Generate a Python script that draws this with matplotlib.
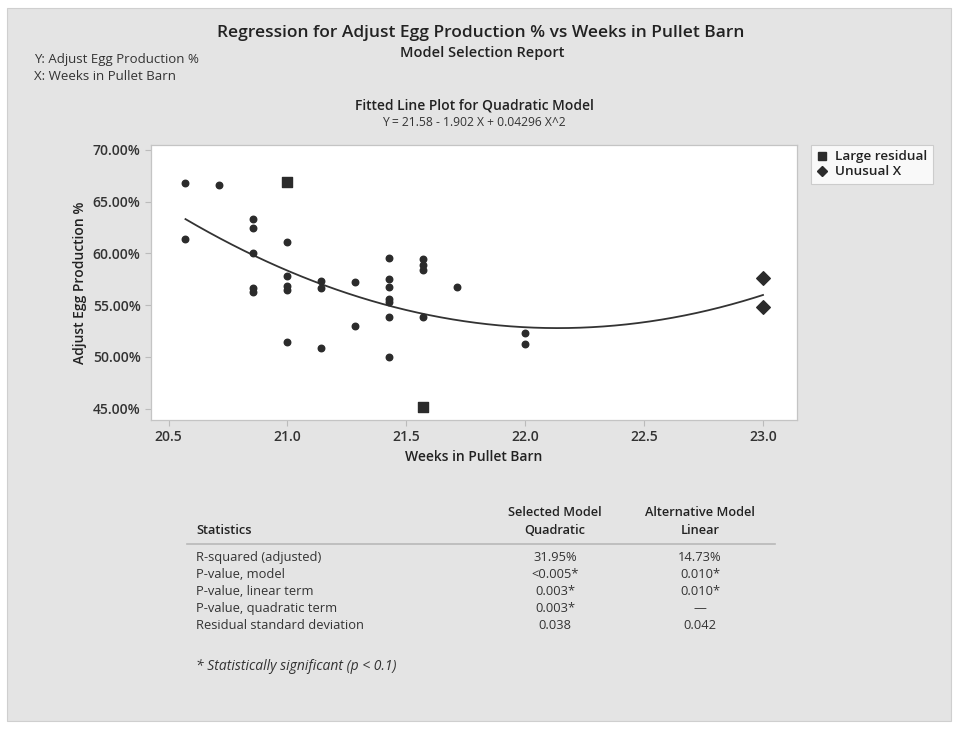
import numpy as np
import matplotlib
matplotlib.use("Agg")
import matplotlib.pyplot as plt
from matplotlib.patches import Rectangle
from matplotlib.lines import Line2D
from matplotlib.ticker import PercentFormatter

plt.rcParams['font.family'] = ['Open Sans', 'DejaVu Sans']

# Data (weeks in pullet barn, adjusted egg production as fraction)
wk_ordinary = [20.571, 20.571, 20.714,
               20.857, 20.857, 20.857, 20.857, 20.857,
               21.0, 21.0, 21.0, 21.0, 21.0,
               21.143, 21.143, 21.143,
               21.286, 21.286,
               21.429, 21.429, 21.429, 21.429, 21.429, 21.429, 21.429,
               21.571, 21.571, 21.571, 21.571,
               21.714,
               22.0, 22.0]
egg_ordinary = [0.668, 0.614, 0.6665,
                0.633, 0.625, 0.600, 0.567, 0.563,
                0.611, 0.578, 0.569, 0.565, 0.514,
                0.573, 0.567, 0.509,
                0.572, 0.530,
                0.596, 0.575, 0.568, 0.556, 0.553, 0.539, 0.500,
                0.595, 0.589, 0.584, 0.539,
                0.568,
                0.523, 0.5125]
wk_large_resid = [21.0, 21.571]
egg_large_resid = [0.669, 0.452]
wk_unusual_x = [23.0, 23.0]
egg_unusual_x = [0.576, 0.548]

# Quadratic model coefficients from the report
coef = [0.04296, -1.902, 21.58]

stat_names = ["R-squared (adjusted)", "P-value, model", "P-value, linear term",
              "P-value, quadratic term", "Residual standard deviation"]
selected_vals = ["31.95%", "<0.005*", "0.003*", "0.003*", "0.038"]
alternative_vals = ["14.73%", "0.010*", "0.010*", "\u2014", "0.042"]

W, H = 956, 729
fig = plt.figure(figsize=(W / 100, H / 100), dpi=100)
fig.patch.set_facecolor("white")

def fx(px):
    return px / W

def fy(py):
    return 1 - py / H

# grey report panel
panel = Rectangle((fx(7), fy(721)), fx(944), 713 / H, transform=fig.transFigure,
                  facecolor="#e4e4e4", edgecolor="#cfcfcf", lw=0.8, zorder=-10)
fig.add_artist(panel)

dark = "#222222"
txt = "#333333"

fig.text(fx(481), fy(33), "Regression for Adjust Egg Production % vs Weeks in Pullet Barn",
         ha="center", va="center", fontsize=12.5, fontweight="semibold", color=dark)
fig.text(fx(482), fy(53), "Model Selection Report", ha="center", va="center",
         fontsize=10.5, fontweight="semibold", color=dark)
fig.text(fx(34), fy(60), "Y: Adjust Egg Production %", ha="left", va="center",
         fontsize=9.5, color=txt)
fig.text(fx(34), fy(77), "X: Weeks in Pullet Barn", ha="left", va="center",
         fontsize=9.5, color=txt)
fig.text(fx(474), fy(106), "Fitted Line Plot for Quadratic Model", ha="center", va="center",
         fontsize=10, fontweight="semibold", color=dark)
fig.text(fx(474), fy(122), "Y = 21.58 - 1.902 X + 0.04296 X^2", ha="center", va="center",
         fontsize=8.7, color=txt)

# main plot
ax = fig.add_axes([fx(151), fy(420), fx(797 - 151), (420 - 145) / H])
ax.set_facecolor("white")
ax.scatter(wk_ordinary, egg_ordinary, s=22, marker="o", color="#2b2b2b", zorder=3)
ax.scatter(wk_large_resid, egg_large_resid, s=48, marker="s", color="#2b2b2b", zorder=3)
ax.scatter(wk_unusual_x, egg_unusual_x, s=48, marker="D", color="#2b2b2b", zorder=3)

all_wk = wk_ordinary + wk_large_resid + wk_unusual_x
xs = np.linspace(min(all_wk), max(all_wk), 200)
ax.plot(xs, np.polyval(coef, xs), color="#333333", lw=1.3, zorder=2)

ax.set_xlim(20.426, 23.143)
ax.set_ylim(0.439, 0.7048)
ax.set_xticks([20.5, 21.0, 21.5, 22.0, 22.5, 23.0])
ax.set_xticklabels(["20.5", "21.0", "21.5", "22.0", "22.5", "23.0"])
ax.set_yticks([0.45, 0.50, 0.55, 0.60, 0.65, 0.70])
ax.yaxis.set_major_formatter(PercentFormatter(1.0, decimals=2))
ax.tick_params(colors="#bbbbbb", labelcolor=txt, labelsize=10, length=4, width=0.8)
for lab in ax.get_xticklabels() + ax.get_yticklabels():
    lab.set_fontweight("semibold")
for sp in ax.spines.values():
    sp.set_color("#c4c4c4")
    sp.set_linewidth(0.9)
ax.set_xlabel("Weeks in Pullet Barn", fontsize=10, fontweight="semibold", color=dark, labelpad=4)
ax.set_ylabel("Adjust Egg Production %", fontsize=10, fontweight="semibold", color=dark, labelpad=4)

handles = [Line2D([], [], ls="", marker="s", ms=6, color="#2b2b2b"),
           Line2D([], [], ls="", marker="D", ms=5.5, color="#2b2b2b")]
leg = fig.legend(handles, ["Large residual", "Unusual X"], loc="upper left",
                 bbox_to_anchor=(fx(811), fy(145)), frameon=True, fancybox=False,
                 fontsize=9.7, handlelength=0.8, handletextpad=0.6, borderpad=0.4,
                 labelspacing=0.15, borderaxespad=0)
leg.get_frame().set_edgecolor("#c4c4c4")
leg.get_frame().set_linewidth(0.8)
for t in leg.get_texts():
    t.set_fontweight("semibold")
    t.set_color(dark)

# statistics table
col_sel, col_alt = 555, 700
fig.text(fx(col_sel), fy(513), "Selected Model", ha="center", va="center",
         fontsize=9.2, fontweight="semibold", color=dark)
fig.text(fx(col_sel), fy(531), "Quadratic", ha="center", va="center",
         fontsize=9.2, fontweight="semibold", color=dark)
fig.text(fx(col_alt), fy(513), "Alternative Model", ha="center", va="center",
         fontsize=9.2, fontweight="semibold", color=dark)
fig.text(fx(col_alt), fy(531), "Linear", ha="center", va="center",
         fontsize=9.2, fontweight="semibold", color=dark)
fig.text(fx(196), fy(531), "Statistics", ha="left", va="center",
         fontsize=9.2, fontweight="semibold", color=dark)
fig.add_artist(Line2D([fx(187), fx(775)], [fy(544), fy(544)], transform=fig.transFigure,
                      color="#b8b8b8", lw=1.2))

row_y = [557.5, 574.5, 591.5, 608.5, 625.5]
for name, sv, av, yy in zip(stat_names, selected_vals, alternative_vals, row_y):
    fig.text(fx(196), fy(yy), name, ha="left", va="center", fontsize=9.3, color=txt)
    fig.text(fx(col_sel), fy(yy), sv, ha="center", va="center", fontsize=9.3, color=txt)
    fig.text(fx(col_alt), fy(yy), av, ha="center", va="center", fontsize=9.3, color=txt)

fig.text(fx(196), fy(666), "* Statistically significant (p < 0.1)", ha="left", va="center",
         fontsize=10, style="italic", color=txt)

fig.savefig("out.png", dpi=100)
